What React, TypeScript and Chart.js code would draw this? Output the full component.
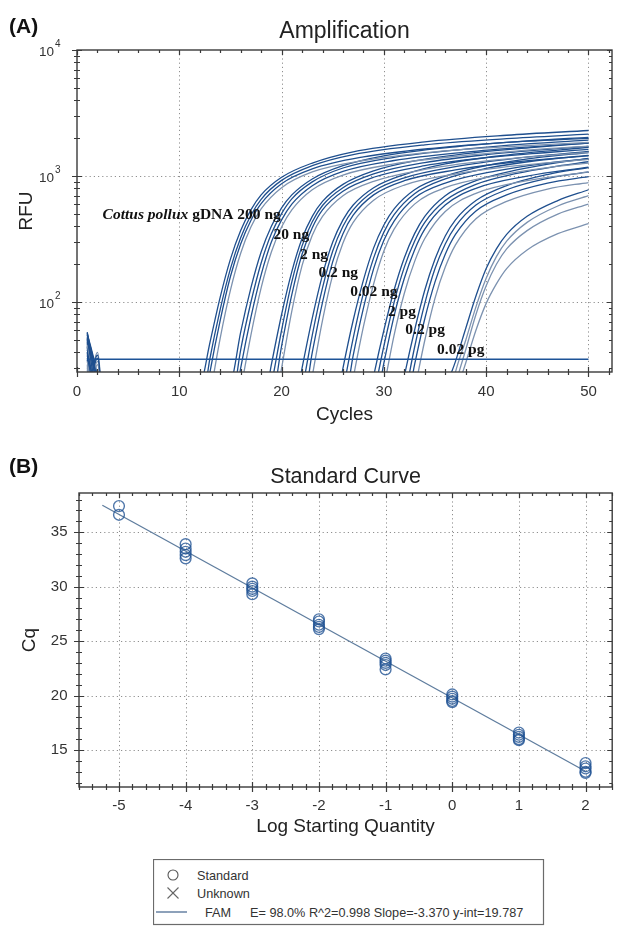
import React, { useEffect, useRef } from 'react';
import { Chart, registerables } from 'chart.js';

Chart.register(...registerables);

const FONT = "'Liberation Sans', Arial, Helvetica, sans-serif";
const SERIF = "'Liberation Serif', 'Times New Roman', serif";

// ---------------- (A) Amplification ----------------
const CYCLE_RANGE = [0, 52.3];
const RFU_RANGE = [28, 10000];
const CYCLE_TICKS = [0, 10, 20, 30, 40, 50];
const RFU_TICKS = [100, 1000, 10000];
const THRESHOLD_RFU = 35.3;
const THRESHOLD_CYCLES = [1, 50];

// [cycle, RFU] pairs
const CURVES_200NG = [
  [[1,58],[2,20],[3,4],[12,20],[13,48],[14,110],[15,220],[16,370],[17,540],[18,710],[20,980],[23,1270],[27,1560],[34,1870],[42,2110],[50,2300]],
  [[1,52],[2,16],[3,4],[12,12],[13,36],[14,88],[15,185],[16,325],[17,490],[18,655],[20,925],[23,1210],[27,1480],[34,1770],[42,1980],[50,2150]],
  [[1,15],[2,38],[3,4],[12,9],[13,28],[14,72],[15,160],[16,290],[17,445],[18,605],[20,870],[23,1140],[28,1420],[35,1670],[42,1850],[50,1990]],
  [[1,46],[2,18],[3,4],[12,6],[13,18],[14,52],[15,125],[16,245],[17,395],[18,550],[20,810],[23,1080],[28,1330],[35,1560],[43,1730],[50,1850]],
];
const CURVES_20NG = [
  [[1,55],[2,22],[3,4],[15,22],[16,58],[17,130],[18,250],[19,400],[20,560],[21,710],[23,950],[26,1210],[30,1450],[37,1710],[44,1900],[50,2030]],
  [[1,44],[2,15],[3,4],[15,14],[16,42],[17,100],[18,205],[19,350],[20,505],[21,660],[23,900],[26,1160],[31,1410],[38,1640],[44,1800],[50,1930]],
  [[1,40],[2,19],[3,4],[15,10],[16,30],[17,76],[18,165],[19,300],[20,450],[21,600],[23,840],[26,1090],[31,1330],[38,1550],[44,1700],[50,1830]],
  [[1,12],[2,34],[3,4],[15,7],[16,20],[17,55],[18,130],[19,250],[20,395],[21,540],[23,780],[26,1020],[31,1250],[38,1460],[45,1630],[50,1730]],
];
const CURVES_2NG = [
  [[1,50],[2,21],[3,4],[18,12],[19,32],[20,80],[21,175],[22,320],[23,480],[24,630],[26,860],[29,1100],[33,1320],[39,1540],[45,1700],[50,1830]],
  [[1,38],[2,14],[3,4],[18,9],[19,22],[20,60],[21,145],[22,280],[23,435],[24,585],[26,810],[29,1040],[34,1280],[40,1480],[45,1610],[50,1720]],
  [[1,56],[2,24],[3,4],[19,16],[20,45],[21,115],[22,240],[23,390],[24,540],[26,760],[29,980],[34,1210],[40,1400],[46,1540],[50,1630]],
  [[1,34],[2,13],[3,4],[19,10],[20,30],[21,85],[22,195],[23,340],[24,480],[26,700],[29,910],[34,1130],[40,1320],[46,1460],[50,1540]],
];
const CURVES_02NG = [
  [[1,48],[2,17],[3,4],[21,11],[22,30],[23,75],[24,165],[25,300],[26,450],[27,590],[29,810],[32,1030],[36,1250],[42,1470],[47,1610],[50,1690]],
  [[1,42],[2,20],[3,4],[21,8],[22,20],[23,55],[24,130],[25,255],[26,400],[27,540],[29,760],[32,970],[37,1190],[43,1390],[50,1570]],
  [[1,14],[2,36],[3,4],[22,14],[23,40],[24,100],[25,210],[26,350],[27,490],[29,710],[32,920],[37,1120],[43,1300],[50,1450]],
  [[1,32],[2,12],[3,4],[22,9],[23,26],[24,72],[25,165],[26,295],[27,430],[29,645],[32,850],[37,1040],[43,1210],[50,1360]],
];
const CURVES_002NG = [
  [[1,53],[2,23],[3,4],[25,11],[26,30],[27,72],[28,150],[29,270],[30,410],[31,550],[33,780],[36,1000],[40,1210],[45,1400],[50,1540]],
  [[1,36],[2,13],[3,4],[25,8],[26,20],[27,52],[28,118],[29,225],[30,360],[31,495],[33,725],[36,950],[40,1150],[45,1330],[50,1460]],
  [[1,45],[2,18],[3,4],[26,14],[27,38],[28,90],[29,185],[30,310],[31,440],[33,670],[36,880],[41,1100],[46,1270],[50,1370]],
  [[1,30],[2,12],[3,4],[26,9],[27,25],[28,64],[29,140],[30,255],[31,380],[33,600],[36,810],[41,1010],[46,1170],[50,1270]],
];
const CURVES_2PG = [
  [[1,57],[2,25],[3,4],[28,10],[29,26],[30,60],[31,125],[32,225],[33,350],[34,480],[36,700],[39,920],[43,1120],[47,1280],[50,1380]],
  [[1,40],[2,16],[3,4],[28,7],[29,18],[30,45],[31,100],[32,190],[33,305],[34,430],[36,640],[39,860],[43,1050],[47,1200],[50,1300]],
  [[1,49],[2,20],[3,4],[29,13],[30,33],[31,78],[32,155],[33,260],[34,380],[36,590],[39,800],[44,1000],[50,1180]],
  [[1,10],[2,32],[3,4],[29,8],[30,21],[31,55],[32,118],[33,210],[34,320],[36,525],[39,730],[44,920],[50,1080]],
];
const CURVES_02PG = [
  [[1,47],[2,19],[3,4],[31,10],[32,26],[33,60],[34,125],[35,220],[36,335],[37,450],[39,640],[42,840],[46,1030],[50,1170]],
  [[1,35],[2,14],[3,4],[31,7],[32,17],[33,44],[34,98],[35,185],[36,290],[37,400],[39,590],[42,780],[46,960],[50,1080]],
  [[1,43],[2,22],[3,4],[32,13],[33,32],[34,74],[35,145],[36,240],[37,345],[39,530],[42,710],[46,880],[50,990]],
  [[1,31],[2,12],[3,4],[32,8],[33,20],[34,50],[35,108],[36,190],[37,285],[39,460],[42,630],[46,790],[50,890]],
];
const CURVES_002PG = [
  [[1,51],[2,21],[3,4],[35,9],[36,20],[37,34],[38,62],[39,112],[40,185],[41,265],[42,345],[44,480],[47,640],[50,780]],
  [[1,13],[2,40],[3,4],[36,12],[37,28],[38,50],[39,92],[40,155],[41,230],[42,305],[44,430],[47,580],[50,700]],
  [[1,39],[2,17],[3,4],[36,9],[37,22],[38,42],[39,80],[40,135],[41,200],[42,265],[44,370],[47,500],[50,600]],
  [[1,29],[2,11],[3,4],[36,7],[37,18],[38,33],[39,60],[40,98],[41,140],[42,185],[44,260],[47,350],[50,420]],
];

const DILUTION_LABELS = ['200 ng', '20 ng', '2 ng', '0.2 ng', '0.02 ng', '2 pg', '0.2 pg', '0.02 pg'];
const SPECIES_PREFIX = 'Cottus pollux';
const SPECIES_SUFFIX = ' gDNA ';
const LABEL_CYCLE = [2.5, 19.2, 21.8, 23.6, 26.7, 30.4, 32.1, 35.2];
const LABEL_RFU = [490, 340, 236, 170, 120, 83, 60, 41.7];

// ---------------- (B) Standard curve ----------------
const LOG_QTY = [-5, -4, -3, -2, -1, 0, 1, 2];
const CQ_REPS = [
  [37.4, 36.6],
  [33.9, 33.5, 33.2, 32.9, 32.6],
  [30.3, 30.0, 29.8, 29.6, 29.3],
  [27.0, 26.8, 26.5, 26.3, 26.1],
  [23.4, 23.2, 23.0, 22.8, 22.4],
  [20.1, 19.9, 19.7, 19.5, 19.4],
  [16.6, 16.4, 16.2, 16.0, 15.9],
  [13.8, 13.5, 13.3, 13.0, 12.9],
];
const SLOPE = -3.37;
const Y_INT = 19.787;
const EFFICIENCY = 98.0;
const R_SQUARED = 0.998;
const FIT_LOGQ = [-5.25, 2.0];
const LOGQ_RANGE = [-5.6, 2.4];
const CQ_RANGE = [11.6, 38.6];
const LOGQ_TICKS = [-5, -4, -3, -2, -1, 0, 1, 2];
const CQ_TICKS = [15, 20, 25, 30, 35];

// ---------------- helpers ----------------
function stepList(from: number, to: number, step: number, skip: number[]) {
  const out: number[] = [];
  for (let v = from; v <= to + 1e-9; v += step) {
    const r = Math.round(v * 1000) / 1000;
    if (!skip.some((s) => Math.abs(s - r) < 1e-6)) out.push(r);
  }
  return out;
}
function logMinors(min: number, max: number) {
  const out: number[] = [];
  for (let d = 10; d < max; d *= 10) {
    for (let k = 2; k <= 9; k++) {
      const v = k * d;
      if (v >= min && v <= max) out.push(v);
    }
  }
  return out;
}

function framePlugin(o: any) {
  return {
    id: 'frame',
    beforeDatasetsDraw(chart: any) {
      const { ctx, chartArea: a } = chart;
      const xs = chart.scales.x, ys = chart.scales.y;
      ctx.save();
      ctx.strokeStyle = '#8f8f8f';
      ctx.lineWidth = 1;
      ctx.setLineDash([1.2, 3]);
      ctx.beginPath();
      for (const v of o.gridX) {
        const p = Math.round(xs.getPixelForValue(v)) + 0.5;
        ctx.moveTo(p, a.top);
        ctx.lineTo(p, a.bottom);
      }
      for (const v of o.gridY) {
        const p = Math.round(ys.getPixelForValue(v)) + 0.5;
        ctx.moveTo(a.left, p);
        ctx.lineTo(a.right, p);
      }
      ctx.stroke();
      ctx.restore();
    },
    afterDatasetsDraw(chart: any) {
      const { ctx, chartArea: a } = chart;
      const xs = chart.scales.x, ys = chart.scales.y;
      const L = a.left, R = a.right, T = a.top, B = a.bottom;
      ctx.save();
      ctx.setLineDash([]);
      ctx.strokeStyle = '#3a3a3a';
      ctx.lineWidth = 1.2;
      ctx.beginPath();
      const seg = (x1: number, y1: number, x2: number, y2: number) => {
        ctx.moveTo(x1, y1);
        ctx.lineTo(x2, y2);
      };
      for (const v of o.xMajor) {
        const p = Math.round(xs.getPixelForValue(v)) + 0.5;
        seg(p, B - 5, p, B + 5);
        seg(p, T, p, T + 5);
      }
      for (const v of o.xMinor) {
        const p = Math.round(xs.getPixelForValue(v)) + 0.5;
        seg(p, B - 3, p, B + 3);
        seg(p, T, p, T + 3);
      }
      for (const v of o.yMajor) {
        const p = Math.round(ys.getPixelForValue(v)) + 0.5;
        seg(L - 5, p, L + 5, p);
        seg(R - 5, p, R, p);
      }
      for (const v of o.yMinor) {
        const p = Math.round(ys.getPixelForValue(v)) + 0.5;
        seg(L - 3, p, L + 3, p);
        seg(R - 3, p, R, p);
      }
      ctx.stroke();
      ctx.lineWidth = 1.4;
      ctx.strokeRect(L, T, R - L, B - T);
      if (o.afterFrame) o.afterFrame(chart);
      ctx.restore();
    },
  };
}

function drawAmpExtras(chart: any) {
  const { ctx, chartArea: a } = chart;
  const xs = chart.scales.x, ys = chart.scales.y;
  ctx.fillStyle = '#333';
  for (const v of RFU_TICKS) {
    const py = ys.getPixelForValue(v);
    const exp = String(Math.round(Math.log10(v)));
    ctx.font = `13.5px ${FONT}`;
    ctx.textAlign = 'right';
    ctx.textBaseline = 'middle';
    ctx.fillText('10', a.left - 23, py + 2);
    ctx.font = `10px ${FONT}`;
    ctx.textAlign = 'left';
    ctx.fillText(exp, a.left - 22, py - 6);
  }
  ctx.fillStyle = '#111';
  ctx.textBaseline = 'middle';
  ctx.textAlign = 'left';
  DILUTION_LABELS.forEach((lab, i) => {
    let px = xs.getPixelForValue(LABEL_CYCLE[i]);
    const py = ys.getPixelForValue(LABEL_RFU[i]);
    if (i === 0) {
      ctx.font = `italic bold 15.5px ${SERIF}`;
      ctx.fillText(SPECIES_PREFIX, px, py);
      px += ctx.measureText(SPECIES_PREFIX).width;
      ctx.font = `bold 15.5px ${SERIF}`;
      ctx.fillText(SPECIES_SUFFIX + lab, px, py);
    } else {
      ctx.font = `bold 15.5px ${SERIF}`;
      ctx.fillText(lab, px, py);
    }
  });
}

function ampDatasets() {
  const groups = [CURVES_200NG, CURVES_20NG, CURVES_2NG, CURVES_02NG, CURVES_002NG, CURVES_2PG, CURVES_02PG, CURVES_002PG];
  const ds: any[] = [
    {
      data: THRESHOLD_CYCLES.map((c) => ({ x: c, y: THRESHOLD_RFU })),
      borderColor: '#1d5397',
      borderWidth: 1.6,
      pointRadius: 0,
      tension: 0,
    },
  ];
  groups.forEach((g, gi) =>
    g.forEach((curve, ci) => {
      const light = gi === 7 ? ci > 0 : ci === 3;
      ds.push({
        data: curve.map(([x, y]) => ({ x, y })),
        borderColor: light ? '#7c92b0' : '#1f4f8e',
        borderWidth: 1.3,
        pointRadius: 0,
        cubicInterpolationMode: 'monotone',
        capBezierPoints: false,
      });
    })
  );
  return ds;
}

const axisTitleFont = { family: FONT, size: 19, weight: 'normal' as const };
const tickFont = { family: FONT, size: 15 };

function ampConfig(): any {
  return {
    type: 'line',
    data: { datasets: ampDatasets() },
    options: {
      animation: false,
      responsive: false,
      events: [],
      layout: { padding: { left: 0, right: 7, top: 0, bottom: 0 } },
      elements: { line: { capBezierPoints: false } },
      plugins: {
        legend: { display: false },
        tooltip: { enabled: false },
        title: {
          display: true,
          text: 'Amplification',
          fullSize: false,
          color: '#222',
          font: { family: FONT, size: 23, weight: 'normal' },
          padding: { top: 18.2, bottom: 4.2 },
        },
      },
      scales: {
        x: {
          type: 'linear',
          min: CYCLE_RANGE[0],
          max: CYCLE_RANGE[1],
          grid: { display: false, drawTicks: false },
          border: { display: false },
          afterBuildTicks: (s: any) => { s.ticks = CYCLE_TICKS.map((v) => ({ value: v })); },
          afterFit: (s: any) => { s.height = 68; },
          ticks: { padding: 11, color: '#333', font: tickFont, maxRotation: 0, autoSkip: false, callback: (v: any) => String(v) },
          title: { display: true, text: 'Cycles', color: '#222', font: axisTitleFont, padding: { top: 0, bottom: 13.6 } },
        },
        y: {
          type: 'logarithmic',
          min: RFU_RANGE[0],
          max: RFU_RANGE[1],
          grid: { display: false, drawTicks: false },
          border: { display: false },
          afterBuildTicks: (s: any) => { s.ticks = RFU_TICKS.map((v) => ({ value: v })); },
          afterFit: (s: any) => { s.width = 77; },
          ticks: { display: false },
          title: { display: true, text: 'RFU', color: '#222', font: axisTitleFont, padding: { top: 15.6, bottom: 0 } },
        },
      },
    },
    plugins: [
      framePlugin({
        gridX: CYCLE_TICKS.filter((v) => v > CYCLE_RANGE[0]),
        gridY: RFU_TICKS.filter((v) => v < RFU_RANGE[1]),
        xMajor: CYCLE_TICKS,
        xMinor: stepList(0, CYCLE_RANGE[1], 2, CYCLE_TICKS),
        yMajor: RFU_TICKS,
        yMinor: logMinors(RFU_RANGE[0], RFU_RANGE[1]),
        afterFrame: drawAmpExtras,
      }),
    ],
  };
}

function stdConfig(): any {
  const points = LOG_QTY.flatMap((q, i) => CQ_REPS[i].map((cq) => ({ x: q, y: cq })));
  const fit = FIT_LOGQ.map((q) => ({ x: q, y: SLOPE * q + Y_INT }));
  return {
    type: 'scatter',
    data: {
      datasets: [
        {
          label: 'Standard',
          data: points,
          pointStyle: 'circle',
          pointRadius: 5.4,
          pointBorderWidth: 1.4,
          pointBorderColor: 'rgba(32,82,148,0.78)',
          pointBackgroundColor: 'rgba(255,255,255,0)',
          showLine: false,
        },
        {
          label: 'FAM',
          data: fit,
          showLine: true,
          borderColor: '#5f7d9e',
          borderWidth: 1.3,
          pointRadius: 0,
        },
      ],
    },
    options: {
      animation: false,
      responsive: false,
      events: [],
      layout: { padding: { left: 0, right: 6, top: 0, bottom: 0 } },
      plugins: {
        legend: { display: false },
        tooltip: { enabled: false },
        title: {
          display: true,
          text: 'Standard Curve',
          fullSize: false,
          color: '#222',
          font: { family: FONT, size: 21.5, weight: 'normal' },
          padding: { top: 24.1, bottom: 3.1 },
        },
      },
      scales: {
        x: {
          type: 'linear',
          min: LOGQ_RANGE[0],
          max: LOGQ_RANGE[1],
          grid: { display: false, drawTicks: false },
          border: { display: false },
          afterBuildTicks: (s: any) => { s.ticks = LOGQ_TICKS.map((v) => ({ value: v })); },
          afterFit: (s: any) => { s.height = 139; },
          ticks: { padding: 10, color: '#333', font: tickFont, maxRotation: 0, autoSkip: false, callback: (v: any) => String(v) },
          title: { display: true, text: 'Log Starting Quantity', color: '#222', font: axisTitleFont, padding: { top: 0, bottom: 87.6 } },
        },
        y: {
          type: 'linear',
          min: CQ_RANGE[0],
          max: CQ_RANGE[1],
          grid: { display: false, drawTicks: false },
          border: { display: false },
          afterBuildTicks: (s: any) => { s.ticks = CQ_TICKS.map((v) => ({ value: v })); },
          afterFit: (s: any) => { s.width = 79; },
          ticks: { padding: 11.5, color: '#333', font: tickFont, callback: (v: any) => String(v) },
          title: { display: true, text: 'Cq', color: '#222', font: axisTitleFont, padding: { top: 18.6, bottom: 0 } },
        },
      },
    },
    plugins: [
      framePlugin({
        gridX: LOGQ_TICKS,
        gridY: CQ_TICKS,
        xMajor: LOGQ_TICKS,
        xMinor: stepList(LOGQ_RANGE[0], LOGQ_RANGE[1], 0.2, LOGQ_TICKS),
        yMajor: CQ_TICKS,
        yMinor: stepList(12, 38, 1, CQ_TICKS),
      }),
    ],
  };
}

export default function App() {
  const ampRef = useRef<HTMLCanvasElement>(null);
  const stdRef = useRef<HTMLCanvasElement>(null);

  useEffect(() => {
    const c1 = new Chart(ampRef.current as HTMLCanvasElement, ampConfig());
    const c2 = new Chart(stdRef.current as HTMLCanvasElement, stdConfig());
    return () => {
      c1.destroy();
      c2.destroy();
    };
  }, []);

  const statsText = `E= ${EFFICIENCY.toFixed(1)}% R^2=${R_SQUARED.toFixed(3)} Slope=${SLOPE.toFixed(3)} y-int=${Y_INT.toFixed(3)}`;

  return (
    <div style={{ position: 'absolute', left: 0, top: 0, width: 619, height: 926, background: '#fff', overflow: 'hidden' }}>
      <canvas ref={ampRef} width={619} height={440} style={{ position: 'absolute', left: 0, top: 0, width: 619, height: 440 }} />
      <canvas ref={stdRef} width={619} height={486} style={{ position: 'absolute', left: 0, top: 440, width: 619, height: 486 }} />
      <div style={{ position: 'absolute', left: 9, top: 15, font: `bold 21px ${FONT}`, lineHeight: '21px', color: '#111' }}>(A)</div>
      <div style={{ position: 'absolute', left: 9, top: 455, font: `bold 21px ${FONT}`, lineHeight: '21px', color: '#111' }}>(B)</div>
      <svg width={392} height={67} style={{ position: 'absolute', left: 153, top: 859 }}>
        <rect x={0.5} y={0.5} width={390} height={65} fill="#fff" stroke="#6b6b6b" strokeWidth={1.2} />
        <circle cx={20} cy={16} r={5} fill="none" stroke="#555" strokeWidth={1.1} />
        <line x1={14.5} y1={28.5} x2={25.5} y2={39.5} stroke="#666" strokeWidth={1.1} />
        <line x1={25.5} y1={28.5} x2={14.5} y2={39.5} stroke="#666" strokeWidth={1.1} />
        <line x1={3} y1={53} x2={34} y2={53} stroke="#4f6f95" strokeWidth={1.3} />
        <g style={{ font: `12.7px ${FONT}` }} fill="#333">
          <text x={44} y={20.5}>Standard</text>
          <text x={44} y={38.5}>Unknown</text>
          <text x={52} y={57.5}>FAM</text>
          <text x={97} y={57.5}>{statsText}</text>
        </g>
      </svg>
    </div>
  );
}
